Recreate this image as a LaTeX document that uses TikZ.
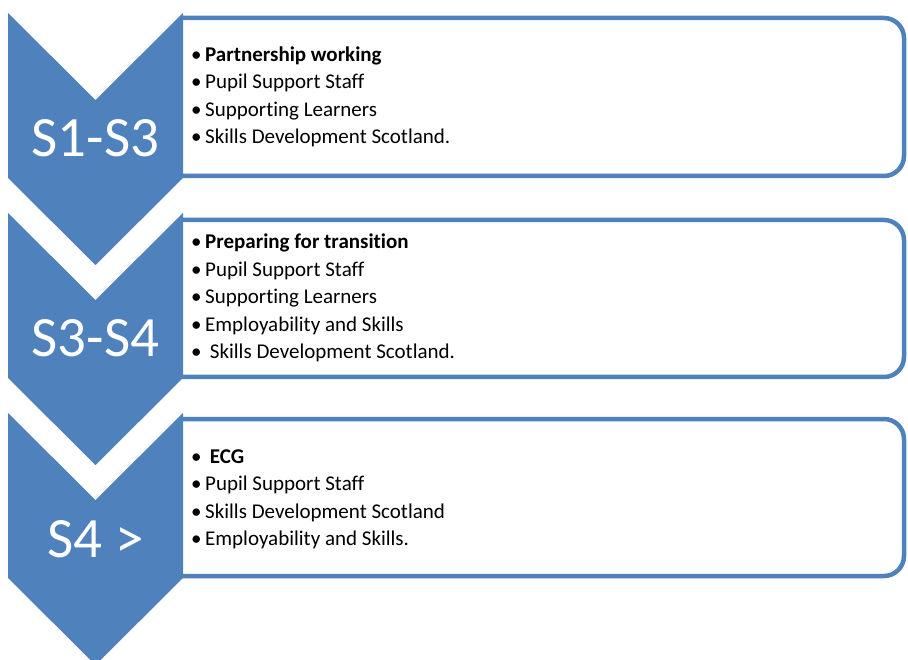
\documentclass[tikz,border=0pt]{standalone}
\usepackage{fontspec}
\setmainfont{Carlito}[Ligatures={NoCommon}]
\definecolor{accent}{HTML}{4F81BD}
% bullet followed by a fixed gap before the item text
\newcommand\itm{\makebox[14pt][l]{•}}
\begin{document}
\begin{tikzpicture}[x=1pt,y=-1pt,
  chev/.style={fill=accent, draw=none},
  listbox/.style={draw=accent, line width=4.5pt, fill=white, line join=round},
  stage/.style={text=white, font=\fontsize{57}{60}\selectfont, anchor=base, inner sep=0pt},
  item/.style={anchor=base west, font=\fontsize{21}{25}\selectfont, inner sep=0pt}
]
\useasboundingbox (0,0) rectangle (908,660);

% list boxes, squared on the left where they meet the chevrons
\foreach \t/\b in {18/176, 220/377, 419/576}{
  \draw[listbox] (181,\t) [rounded corners=20pt] -- (904,\t) -- (904,\b) -- (181,\b);
}

% chevrons
\foreach \y in {13, 213, 413}{
  \fill[chev] (8,\y) -- (95.5,\y+87) -- (183,\y) -- (183,\y+165) -- (95.5,\y+252) -- (8,\y+165) -- cycle;
}

% stage labels
\node[stage] (s1) at (95.5,157) {S1-S3};
\node[stage] (s2) at (95.5,357) {S3-S4};
\node[stage] (s3) at (95.5,557) {S4 >};

% first box
\node[item] (b1a) at (191,61.5)  {\itm\textbf{Partnership working}};
\node[item] (b1b) at (191,89)    {\itm Pupil Support Staff};
\node[item] (b1c) at (191,116.5) {\itm Supporting Learners};
\node[item] (b1d) at (191,144)   {\itm Skills Development Scotland.};

% second box
\node[item] (b2a) at (191,249)   {\itm\textbf{Preparing for transition}};
\node[item] (b2b) at (191,276.5) {\itm Pupil Support Staff};
\node[item] (b2c) at (191,304)   {\itm Supporting Learners};
\node[item] (b2d) at (191,331.5) {\itm Employability and Skills};
\node[item] (b2e) at (191,359)   {\itm\ Skills Development Scotland.};

% third box
\node[item] (b3a) at (191,463)   {\itm\ \textbf{ECG}};
\node[item] (b3b) at (191,490.5) {\itm Pupil Support Staff};
\node[item] (b3c) at (191,518)   {\itm Skills Development Scotland};
\node[item] (b3d) at (191,545.5) {\itm Employability and Skills.};
\end{tikzpicture}
\end{document}
